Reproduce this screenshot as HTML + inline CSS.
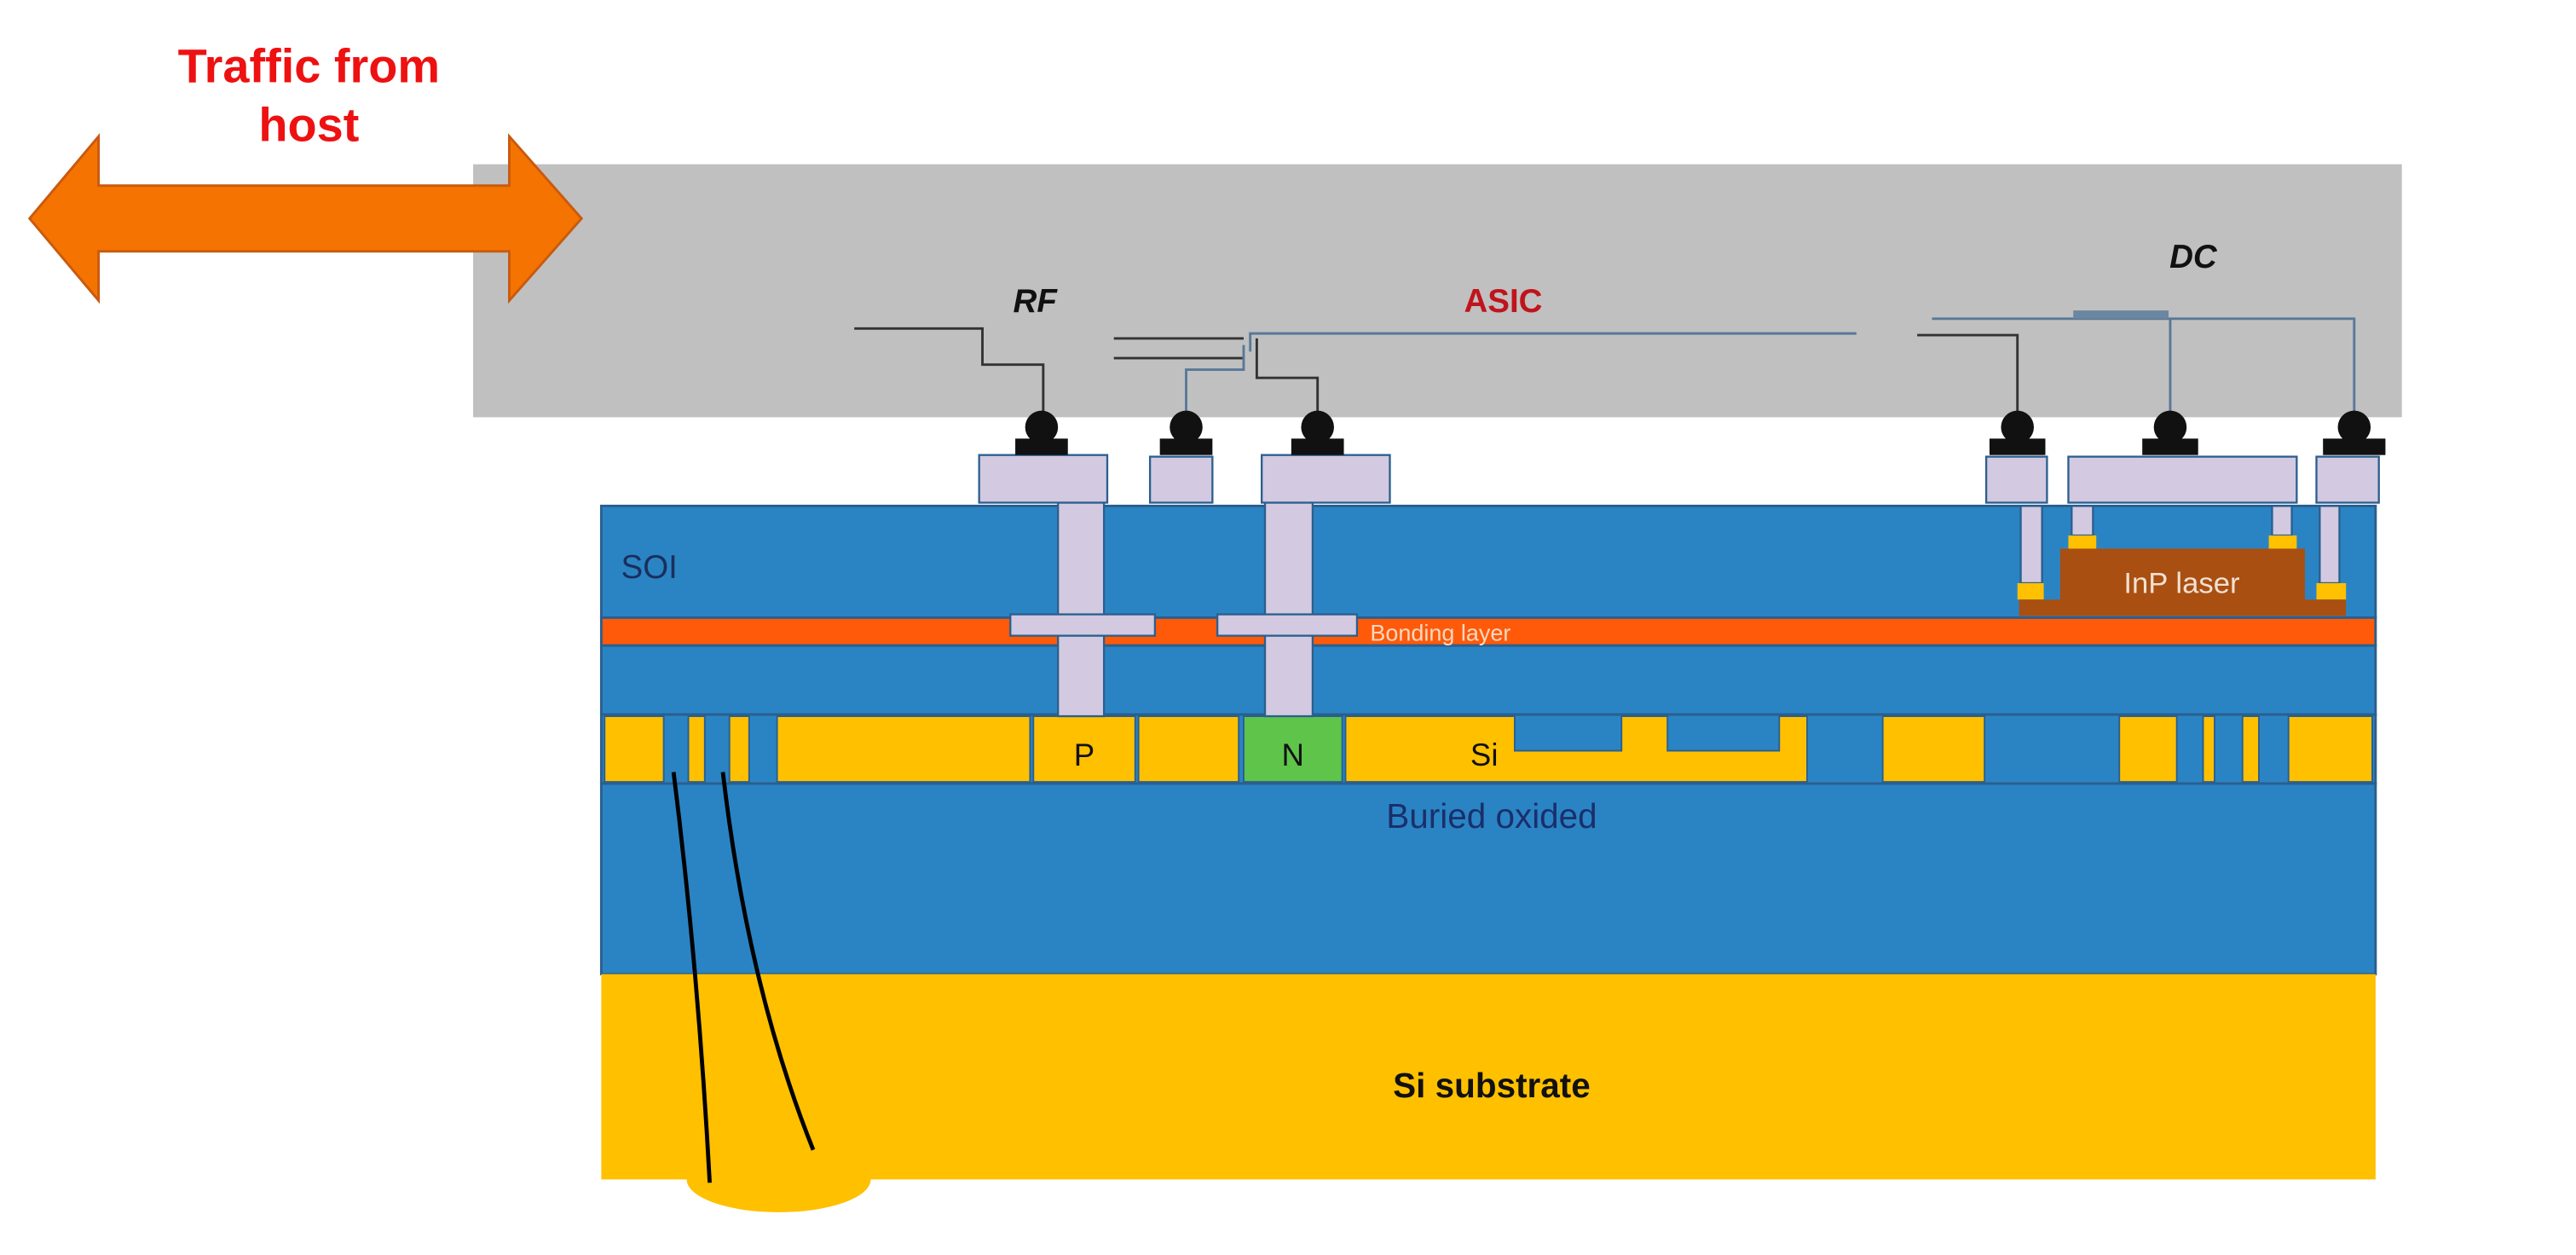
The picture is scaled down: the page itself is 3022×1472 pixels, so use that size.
<!DOCTYPE html>
<html><head><meta charset="utf-8"><style>html,body{margin:0;padding:0;background:#fff}svg{display:block}</style></head>
<body>
<svg width="3022" height="1472" viewBox="0 0 1568 764" preserveAspectRatio="none" xmlns="http://www.w3.org/2000/svg" font-family="Liberation Sans, sans-serif">
<rect x="0" y="0" width="1568" height="764" fill="#fff"/>
<text x="188" y="50" font-size="29" font-weight="bold" fill="#ee1111" text-anchor="middle">Traffic from</text>
<text x="188" y="86" font-size="29" font-weight="bold" fill="#ee1111" text-anchor="middle">host</text>
<rect x="288" y="100" width="1174" height="154" fill="#c0c0c0"/>
<polygon points="18,133 60,83 60,113 310,113 310,83 354,133 310,183 310,153 60,153 60,183" fill="#f57300" stroke="#c85a10" stroke-width="1.5"/>
<text x="630" y="190" font-size="20" font-weight="bold" font-style="italic" fill="#111" text-anchor="middle">RF</text>
<text x="915" y="190" font-size="20" font-weight="bold" fill="#c0141c" text-anchor="middle">ASIC</text>
<text x="1335" y="163" font-size="20" font-weight="bold" font-style="italic" fill="#111" text-anchor="middle">DC</text>
<!-- wires -->
<g fill="none" stroke-width="1.5">
<polyline points="520,200 598,200 598,222 635,222 635,252" stroke="#333"/>
<line x1="678" y1="206" x2="757" y2="206" stroke="#333"/>
<line x1="678" y1="218" x2="757" y2="218" stroke="#333"/>
<polyline points="761,214 761,203 1130,203" stroke="#5a7898"/>
<polyline points="722,252 722,225 757,225 757,210" stroke="#5a7898"/>
<polyline points="765,206 765,230 802,230 802,252" stroke="#333"/>
<polyline points="1167,204 1228,204 1228,252" stroke="#333"/>
<polyline points="1176,194 1433,194 1433,252" stroke="#5a7898"/>
<line x1="1321" y1="194" x2="1321" y2="252" stroke="#5a7898"/>
</g>
<rect x="1262" y="189" width="58" height="5" fill="#6b86a0"/>
<!-- chip layers -->
<g stroke="#2a5f8f" stroke-width="1.5">
<rect x="366" y="308" width="1080" height="68" fill="#2a84c4"/>
<rect x="366" y="376" width="1080" height="17" fill="#fe5a0a"/>
<rect x="366" y="393" width="1080" height="42" fill="#2a84c4"/>
<rect x="366" y="435" width="1080" height="42" fill="#2a84c4"/>
<rect x="366" y="477" width="1080" height="116" fill="#2a84c4"/>
</g>
<ellipse cx="474" cy="718" rx="56" ry="20" fill="#ffc000"/>
<rect x="366" y="593" width="1080" height="125" fill="#ffc000"/>
<!-- Si row -->
<g fill="#ffc000" stroke="#2a5f8f" stroke-width="1">
<rect x="368" y="436" width="36" height="40"/>
<rect x="419" y="436" width="10" height="40"/>
<rect x="444" y="436" width="12" height="40"/>
<rect x="473" y="436" width="154" height="40"/>
<rect x="629" y="436" width="62" height="40"/>
<rect x="693" y="436" width="61" height="40"/>
<rect x="757" y="436" width="60" height="40" fill="#5fc44a"/>
<path d="M819,436 H922 V457 H987 V436 H1015 V457 H1083 V436 H1100 V476 H819 Z"/>
<rect x="1146" y="436" width="62" height="40"/>
<rect x="1290" y="436" width="35" height="40"/>
<rect x="1341" y="436" width="7" height="40"/>
<rect x="1365" y="436" width="10" height="40"/>
<rect x="1393" y="436" width="51" height="40"/>
</g>
<!-- vias and pads -->
<g fill="#d3c9e0" stroke="#2a5f8f" stroke-width="1.2">
<rect x="644" y="305" width="28" height="131"/>
<rect x="770" y="305" width="29" height="131"/>
<rect x="615" y="374" width="88" height="13"/>
<rect x="741" y="374" width="85" height="13"/>
<rect x="596" y="277" width="78" height="29"/>
<rect x="700" y="278" width="38" height="28"/>
<rect x="768" y="277" width="78" height="29"/>
<rect x="1209" y="278" width="37" height="28"/>
<rect x="1259" y="278" width="139" height="28"/>
<rect x="1410" y="278" width="38" height="28"/>
<rect x="1230" y="308" width="13" height="47"/>
<rect x="1412" y="308" width="12" height="47"/>
<rect x="1261" y="308" width="13" height="18"/>
<rect x="1383" y="308" width="12" height="18"/>
</g>
<g fill="#ffc000">
<rect x="1228" y="355" width="16" height="10"/>
<rect x="1410" y="355" width="18" height="10"/>
<rect x="1259" y="326" width="17" height="8"/>
<rect x="1381" y="326" width="17" height="8"/>
</g>
<path d="M1254,334 H1403 V365 H1428 V375 H1229 V365 H1254 Z" fill="#a94f12"/>
<text x="1328" y="361" font-size="18" fill="#f3e0d0" text-anchor="middle">InP laser</text>
<!-- bumps -->
<g fill="#111">
<circle cx="634" cy="260" r="10"/><rect x="618" y="267" width="32" height="10"/>
<circle cx="722" cy="260" r="10"/><rect x="706" y="267" width="32" height="10"/>
<circle cx="802" cy="260" r="10"/><rect x="786" y="267" width="32" height="10"/>
<circle cx="1228" cy="260" r="10"/><rect x="1211" y="267" width="34" height="10"/>
<circle cx="1321" cy="260" r="10"/><rect x="1304" y="267" width="34" height="10"/>
<circle cx="1433" cy="260" r="10"/><rect x="1414" y="267" width="38" height="10"/>
</g>
<!-- fibers -->
<path d="M410,470 Q425,590 432,720" stroke="#000" stroke-width="2.5" fill="none"/>
<path d="M440,470 Q455,600 495,700" stroke="#000" stroke-width="2.5" fill="none"/>
<text x="378" y="352" font-size="20" fill="#1a2f5b">SOI</text>
<text x="834" y="390" font-size="14" fill="#fcd8c0">Bonding layer</text>
<text x="660" y="466" font-size="19" fill="#111" text-anchor="middle">P</text>
<text x="787" y="466" font-size="19" fill="#111" text-anchor="middle">N</text>
<text x="895" y="466" font-size="19" fill="#111">Si</text>
<text x="908" y="504" font-size="21" fill="#1a2f6b" text-anchor="middle">Buried oxided</text>
<text x="908" y="668" font-size="21" font-weight="bold" fill="#111" text-anchor="middle">Si substrate</text>
</svg>
</body></html>
